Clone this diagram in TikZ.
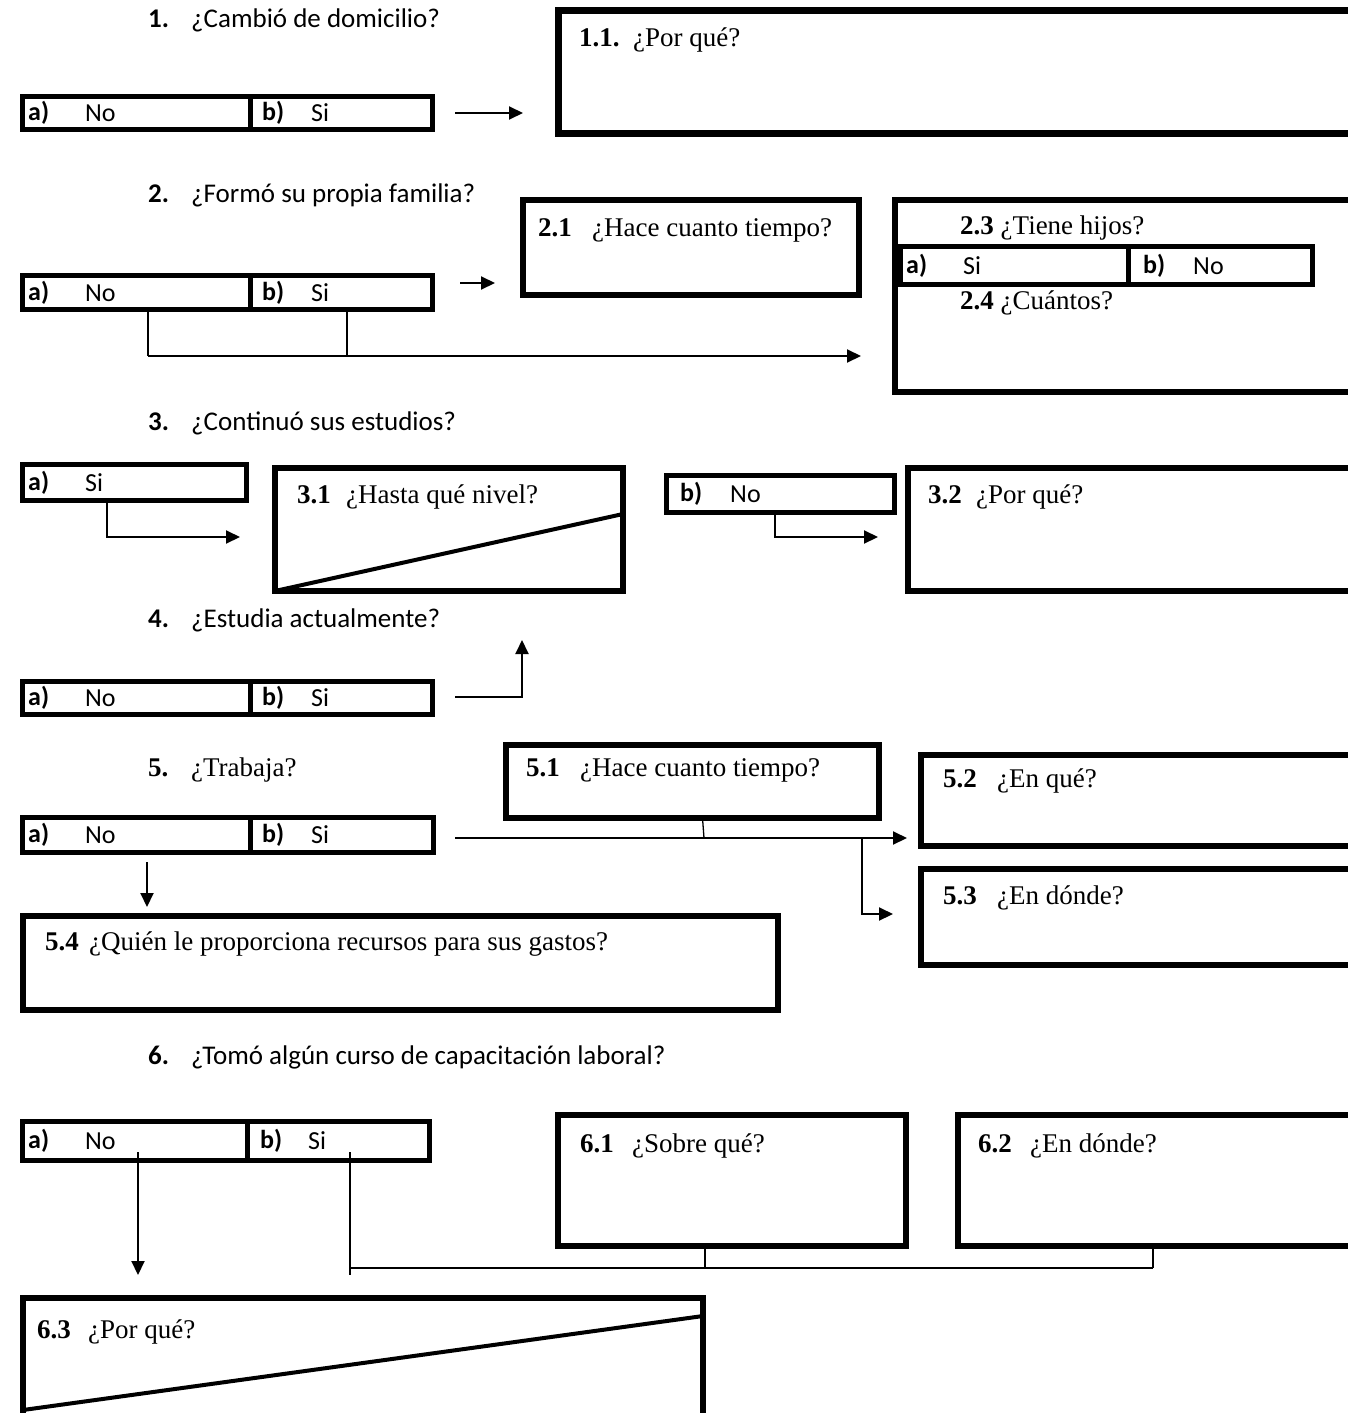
\documentclass[tikz,border=0pt]{standalone}
\usepackage{fontspec}
\setmainfont{Liberation Serif}
\newfontfamily\calibri{Carlito}
\usetikzlibrary{arrows.meta}

% framed box given by its outer edges: style, name, x1, y1, x2, y2, line width
\newcommand{\mkbox}[7]{%
  \pgfmathsetmacro\mkW{#5-#3-#7}%
  \pgfmathsetmacro\mkH{#6-#4-#7}%
  \pgfmathsetmacro\mkX{#3+#7/2}%
  \pgfmathsetmacro\mkY{#4+#7/2}%
  \node[#1, line width=#7pt, minimum width=\mkW pt, minimum height=\mkH pt] (#2) at (\mkX,\mkY) {};%
}
% two-cell answer row: name, x left, x divider, x right, y top, y bottom
\newcommand{\optrow}[6]{%
  \mkbox{frame}{#1a}{#2}{#5}{#3+2.5}{#6}{5}%
  \mkbox{frame}{#1b}{#3-2.5}{#5}{#4}{#6}{5}%
}

\begin{document}
\begin{tikzpicture}[x=1pt,y=-1pt,
  frame/.style={draw, inner sep=0pt, outer sep=0pt, anchor=north west},
  ttl/.style={anchor=west, inner sep=0pt, font=\calibri\fontsize{27}{32}\selectfont},
  ttlrm/.style={anchor=west, inner sep=0pt, font=\fontsize{27}{32}\selectfont},
  opt/.style={anchor=west, inner sep=0pt, font=\calibri\fontsize{26}{30}\selectfont},
  qtxt/.style={anchor=west, inner sep=0pt, font=\fontsize{27}{32}\selectfont},
  link/.style={line width=2pt},
  hair/.style={line width=1.3pt},
  slash/.style={line width=4pt},
  tip/.style={-{Triangle[length=14pt,width=13pt]}},
]
\useasboundingbox (0,0) rectangle (1348,1413);
\clip (0,0) rectangle (1348,1413);
\fill[white] (0,0) rectangle (1348,1413);

% ---------- 1 ----------
\node[ttl] (t1) at (148,20) {\makebox[43pt][l]{\textbf{1.}}¿Cambió de domicilio?};
\optrow{q1}{20}{250}{440}{94}{132}
\node[opt] (q1al) at (28,113) {\textbf{a)}};
\node[opt] (q1at) at (85,113) {No};
\node[opt] (q1bl) at (262,113) {\textbf{b)}};
\node[opt] (q1bt) at (311,113) {Si};
\mkbox{frame}{b11}{555}{7}{1380}{137}{7}
\node[qtxt] (b11t) at (579,40) {\makebox[54pt][l]{\textbf{1.1.}}¿Por qué?};
\coordinate (c1a) at (455,113);
\coordinate (c1b) at (523,113);
\draw[link,tip] (c1a) -- (c1b);

% ---------- 2 ----------
\node[ttl] (t2) at (148,195) {\makebox[43pt][l]{\textbf{2.}}¿Formó su propia familia?};
\optrow{q2}{20}{250}{440}{273}{312}
\node[opt] (q2al) at (28,293) {\textbf{a)}};
\node[opt] (q2at) at (85,293) {No};
\node[opt] (q2bl) at (262,293) {\textbf{b)}};
\node[opt] (q2bt) at (311,293) {Si};
\mkbox{frame}{b21}{520}{197}{862}{298}{6}
\node[qtxt] (b21t) at (538,230) {\makebox[54pt][l]{\textbf{2.1}}¿Hace cuanto tiempo?};
\coordinate (c2a) at (460,283);
\coordinate (c2b) at (495,283);
\draw[link,tip] (c2a) -- (c2b);

\mkbox{frame}{b23}{892}{197}{1380}{395}{6}
\node[qtxt] (b23t) at (960,228) {\textbf{2.3} ¿Tiene hijos?};
\optrow{q23}{898}{1128}{1320}{244}{287}
\node[opt] (q23al) at (906,266) {\textbf{a)}};
\node[opt] (q23at) at (963,266) {Si};
\node[opt] (q23bl) at (1143,266) {\textbf{b)}};
\node[opt] (q23bt) at (1193,266) {No};
\node[qtxt] (b24t) at (960,303) {\textbf{2.4} ¿Cuántos?};

\coordinate (c2l) at (148,356);
\coordinate (c2r) at (347,356);
\draw[hair] (q2a.south -| c2l) -- (c2l);
\draw[hair] (q2b.south -| c2r) -- (c2r);
\draw[link,tip,shorten >=34pt] (c2l) -- (b23.west |- c2l);

% ---------- 3 ----------
\node[ttl] (t3) at (148,423) {\makebox[43pt][l]{\textbf{3.}}¿Continuó sus estudios?};
\mkbox{frame}{q3a}{20}{462}{249}{503}{5}
\node[opt] (q3al) at (28,483) {\textbf{a)}};
\node[opt] (q3at) at (85,483) {Si};
\mkbox{frame}{b31}{272}{465}{626}{594}{6}
\node[qtxt] (b31t) at (297,497) {\makebox[49pt][l]{\textbf{3.1}}¿Hasta qué nivel?};
\coordinate (d31) at (623,514);
\draw[slash] (b31.south west) -- (d31);
\coordinate (c3a) at (107,537);
\draw[link,tip,shorten >=35pt] (q3a.south -| c3a) -- (c3a) -- (b31.west |- c3a);

\mkbox{frame}{q3b}{664}{473}{897}{515}{5}
\node[opt] (q3bl) at (680,494) {\textbf{b)}};
\node[opt] (q3bt) at (730,494) {No};
\mkbox{frame}{b32}{905}{465}{1380}{594}{6}
\node[qtxt] (b32t) at (928,497) {\makebox[48pt][l]{\textbf{3.2}}¿Por qué?};
\coordinate (c3b) at (775,537);
\draw[link,tip,shorten >=30pt] (q3b.south -| c3b) -- (c3b) -- (b32.west |- c3b);

% ---------- 4 ----------
\node[ttl] (t4) at (148,620) {\makebox[43pt][l]{\textbf{4.}}¿Estudia actualmente?};
\optrow{q4}{20}{250}{440}{679}{717}
\node[opt] (q4al) at (28,698) {\textbf{a)}};
\node[opt] (q4at) at (85,698) {No};
\node[opt] (q4bl) at (262,698) {\textbf{b)}};
\node[opt] (q4bt) at (311,698) {Si};
\coordinate (c4a) at (455,697);
\coordinate (c4b) at (522,697);
\draw[link,tip,shorten >=49pt] (c4a) -- (c4b) -- (b31.south -| c4b);

% ---------- 5 ----------
\node[ttlrm] (t5) at (148,770) {\makebox[43pt][l]{\textbf{5.}}¿Trabaja?};
\optrow{q5}{20}{250}{441}{815}{855}
\node[opt] (q5al) at (28,835) {\textbf{a)}};
\node[opt] (q5at) at (85,835) {No};
\node[opt] (q5bl) at (262,835) {\textbf{b)}};
\node[opt] (q5bt) at (311,835) {Si};
\mkbox{frame}{b51}{503}{742}{882}{821}{6}
\node[qtxt] (b51t) at (526,770) {\makebox[54pt][l]{\textbf{5.1}}¿Hace cuanto tiempo?};
\mkbox{frame}{b52}{918}{752}{1380}{849}{6}
\node[qtxt] (b52t) at (943,781) {\makebox[54pt][l]{\textbf{5.2}}¿En qué?};
\mkbox{frame}{b53}{918}{866}{1380}{968}{6}
\node[qtxt] (b53t) at (943,898) {\makebox[54pt][l]{\textbf{5.3}}¿En dónde?};
\mkbox{frame}{b54}{20}{913}{781}{1013}{6}
\node[qtxt] (b54t) at (45,944) {\makebox[44pt][l]{\textbf{5.4}}¿Quién le proporciona recursos para sus gastos?};

\coordinate (c5a) at (455,838);
\coordinate (c5s) at (704,838);
\coordinate (c5b) at (862,838);
\coordinate (c5c) at (862,914);
\coordinate (c5d) at (147,862);
\draw[link,tip,shorten >=14pt] (c5a) -- (b52.west |- c5a);
\draw[hair] ([xshift=10pt]b51.south) -- (c5s);
\draw[link,tip,shorten >=28pt] (c5b) -- (c5c) -- (b53.west |- c5c);
\draw[link,tip,shorten >=9pt] (c5d) -- (b54.north -| c5d);

% ---------- 6 ----------
\node[ttl] (t6) at (148,1057) {\makebox[43pt][l]{\textbf{6.}}¿Tomó algún curso de capacitación laboral?};
\optrow{q6}{20}{247}{437}{1119}{1163}
\node[opt] (q6al) at (28,1141) {\textbf{a)}};
\node[opt] (q6at) at (85,1141) {No};
\node[opt] (q6bl) at (260,1141) {\textbf{b)}};
\node[opt] (q6bt) at (308,1141) {Si};
\mkbox{frame}{b61}{555}{1112}{909}{1249}{6}
\node[qtxt] (b61t) at (580,1146) {\makebox[52pt][l]{\textbf{6.1}}¿Sobre qué?};
\mkbox{frame}{b62}{955}{1112}{1380}{1249}{6}
\node[qtxt] (b62t) at (978,1146) {\makebox[52pt][l]{\textbf{6.2}}¿En dónde?};
\mkbox{frame}{b63}{20}{1295}{706}{1440}{6}
\node[qtxt] (b63t) at (37,1332) {\makebox[51pt][l]{\textbf{6.3}}¿Por qué?};
\coordinate (d63a) at (23,1410);
\coordinate (d63b) at (703,1316);
\draw[slash] (d63a) -- (d63b);

\coordinate (c6a) at (138,1152);
\draw[link,tip,shorten >=23pt] (c6a) -- (b63.north -| c6a);
\coordinate (c6b) at (350,1152);
\coordinate (c6c) at (350,1275);
\coordinate (c6v1) at (705,1268);
\coordinate (c6v2) at (1153,1268);
\draw[hair] (c6b) -- (c6c);
\draw[hair] (c6b |- c6v1) -- (c6v2);
\draw[hair] (b61.south -| c6v1) -- (c6v1);
\draw[hair] (b62.south -| c6v2) -- (c6v2);
\end{tikzpicture}
\end{document}
